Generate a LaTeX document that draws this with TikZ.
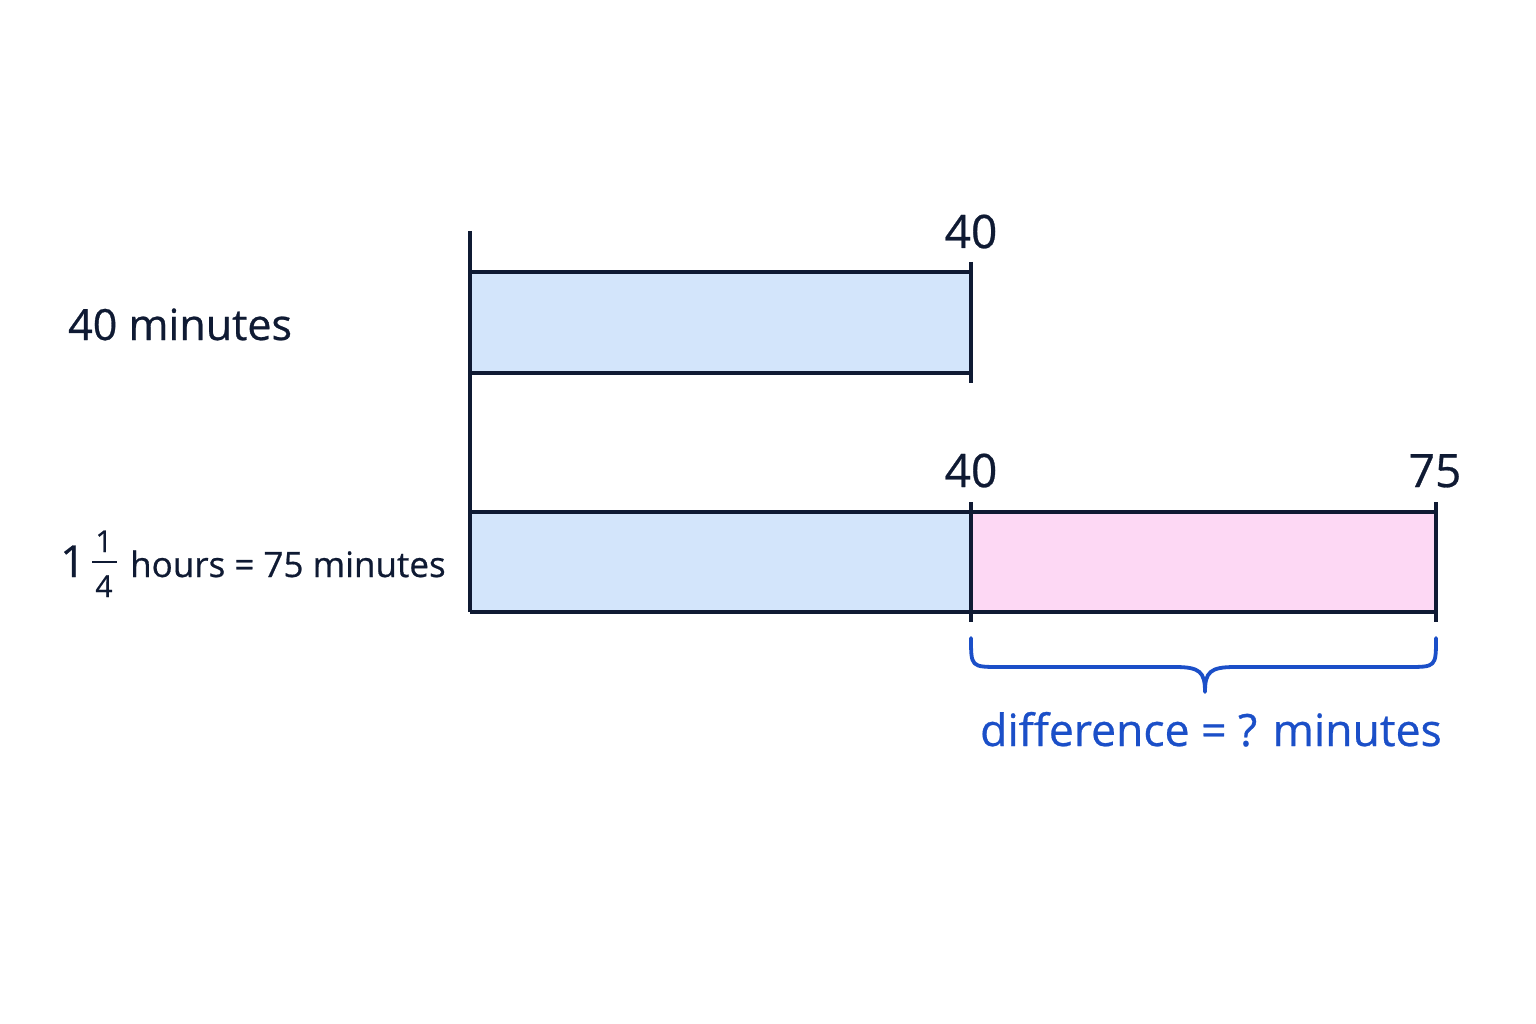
\documentclass[tikz,border=0pt]{standalone}
\usepackage{fontspec}
\setmainfont{Open Sans}[FakeBold=0.6]
\definecolor{ink}{HTML}{0F1A33}
\definecolor{barblue}{HTML}{D3E5FB}
\definecolor{barpink}{HTML}{FDD8F4}
\definecolor{bracecol}{HTML}{1B4FC8}
\begin{document}
\begin{tikzpicture}[x=1pt,y=-1pt,
  line/.style={draw=ink,line width=3.8pt},
  lbl/.style={text=ink,inner sep=0pt,anchor=base},
  big/.style={font=\fontsize{43}{50}\selectfont},
  mid/.style={font=\fontsize{35}{42}\selectfont},
  whole/.style={font=\fontsize{44}{50}\selectfont},
  num/.style={font=\fontsize{46}{52}\selectfont},
  frac/.style={font=\fontsize{30}{34}\selectfont},
  bluetext/.style={text=bracecol,inner sep=0pt,anchor=base,font=\fontsize{44.5}{50}\selectfont}]
\useasboundingbox[fill=white] (0,0) rectangle (1536,1024);
% fills
\fill[barblue] (470,272) rectangle (971,373);
\fill[barblue] (470,512) rectangle (971,612);
\fill[barpink] (971,512) rectangle (1436,612);
% named points
\coordinate (axT) at (470,231);
\coordinate (axB) at (470,612);
\coordinate (t1a) at (971,262);
\coordinate (t1b) at (971,383);
\coordinate (t2a) at (971,502);
\coordinate (t2b) at (971,622);
\coordinate (t3a) at (1436,502);
\coordinate (t3b) at (1436,622);
% lines
\draw[line] (axT) -- (axB);
\draw[line] (470,272) -- (971,272);
\draw[line] (470,373) -- (971,373);
\draw[line] (t1a) -- (t1b);
\draw[line] (470,512) -- (1436,512);
\draw[line] (470,612) -- (1436,612);
\draw[line] (t2a) -- (t2b);
\draw[line] (t3a) -- (t3b);
% brace
\draw[bracecol,line width=3.8pt,line cap=round,line join=round]
  (971,638) .. controls (971,667) .. (1000,667) -- (1175,667)
  .. controls (1200,667) and (1205,672) .. (1205,692)
  .. controls (1205,672) and (1210,667) .. (1235,667) -- (1407,667)
  .. controls (1436,667) .. (1436,638);
% labels
\node[lbl,num] (n40a) at (971,248) {40};
\node[lbl,num] (n40b) at (971,487) {40};
\node[lbl,num] (n75) at (1435,487) {75};
\node[lbl,big,anchor=base west] (l1) at (68,340) {40 minutes};
\node[lbl,whole,anchor=base west] (w1) at (60,577) {1};
\node[lbl,frac] (fn) at (104,552) {1};
\node[lbl,frac] (fd) at (104,597) {4};
\draw[ink,line width=2.6pt] (92,562) -- (117,562);
\node[lbl,mid,anchor=base west] (l2) at (130,577) {hours = 75 minutes};
\node[bluetext] (diff) at (1211,746) {difference = ? minutes};
\end{tikzpicture}
\end{document}
